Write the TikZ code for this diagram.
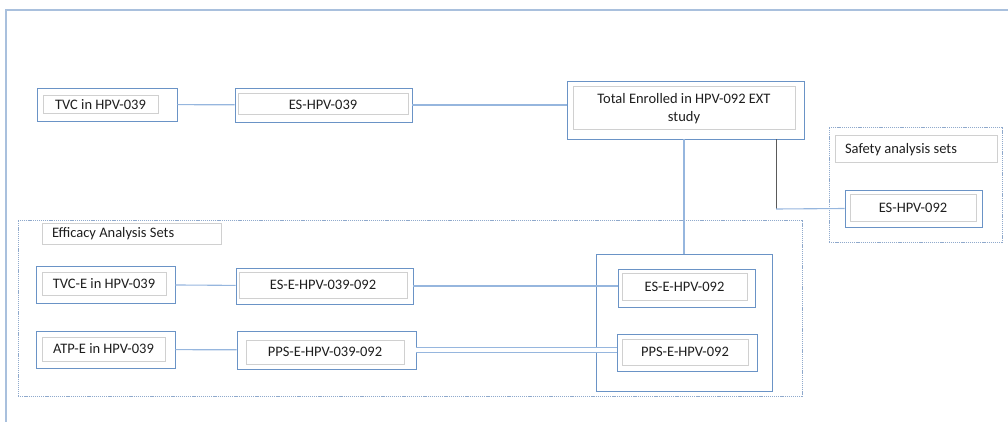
\documentclass[tikz,border=0pt]{standalone}
\usepackage{fontspec}
\setmainfont{Carlito}
\definecolor{boxblue}{HTML}{6A93C6}
\definecolor{linkblue}{HTML}{96B6DE}
\definecolor{innergray}{HTML}{D0D0D0}
\definecolor{frameblue}{HTML}{A9C0DD}
\definecolor{dotblue}{HTML}{8FA9CC}
\definecolor{textgray}{HTML}{1E1E1E}
\definecolor{stemgray}{HTML}{5A5A5A}
\begin{document}
\begin{tikzpicture}[x=1pt,y=-1pt,
    outer/.style={draw=boxblue,line width=0.9pt,inner sep=0pt},
    inner/.style={draw=innergray,line width=1pt,inner sep=0pt,text=textgray,
      font=\fontsize{14.5}{18}\selectfont},
    group/.style={draw=dotblue,line width=0.9pt,dash pattern=on 1.2pt off 0.9pt,inner sep=0pt},
    link/.style={draw=linkblue,line width=1.1pt},
    sz/.style 2 args={minimum width=#1pt,minimum height=#2pt}]
    \useasboundingbox (0,0) rectangle (1008,422);
    \draw[frameblue,line width=1.8pt] (6,422) -- (6,10) -- (1008,10);
    % analysis set frames
    \node[group,sz={173}{115}] (G0) at (915.5,184.5) {};
    \node[group,sz={784}{176}] (G1) at (410,308) {};
    \node[outer,sz={176}{137}] (C2_2) at (684,322.5) {};
    \node[inner,sz={162}{27},text width=142pt,inner xsep=10pt,align=flush left] (L0) at (916,149.5) {Safety analysis sets};
    \node[inner,sz={179}{21},text width=159pt,inner xsep=10pt,align=flush left] (L1) at (131.5,233.5) {Efficacy Analysis Sets};
    % enrolment row
    \node[outer,sz={140}{33}] (A0_0) at (107,104.5) {};
    \node[inner,sz={115}{18}] (B0_0) at (100.5,105) {TVC in HPV-039};
    \node[outer,sz={177}{34}] (A0_1) at (323.5,105) {};
    \node[inner,sz={170}{21}] (B0_1) at (323,104.5) {ES-HPV-039};
    \node[outer,sz={237}{58}] (A0_2) at (685.5,110) {};
    \node[inner,sz={222}{43},align=center] (B0_2) at (684,108.5) {Total Enrolled in HPV-092 EXT\\study};
    % safety
    \node[outer,sz={137}{37}] (A1_3) at (913.5,208.5) {};
    \node[inner,sz={126}{27}] (B1_3) at (913,207.5) {ES-HPV-092};
    % efficacy
    \node[outer,sz={139}{37}] (A2_0) at (105.5,284.5) {};
    \node[inner,sz={124}{23}] (B2_0) at (104,283.5) {TVC-E in HPV-039};
    \node[outer,sz={177}{36}] (A2_1) at (324.5,286) {};
    \node[inner,sz={168}{26}] (B2_1) at (323,285) {ES-E-HPV-039-092};
    \node[outer,sz={137}{38}] (A2_2) at (686.5,288) {};
    \node[inner,sz={125}{27}] (B2_2) at (684.5,286.5) {ES-E-HPV-092};
    \node[outer,sz={139}{37}] (A3_0) at (105.5,349.5) {};
    \node[inner,sz={123}{24}] (B3_0) at (103.5,349) {ATP-E in HPV-039};
    \node[outer,sz={179}{38}] (A3_1) at (326.5,350) {};
    \node[inner,sz={158}{24}] (B3_1) at (325,352) {PPS-E-HPV-039-092};
    \node[outer,sz={140}{37}] (A3_2) at (687,352.5) {};
    \node[inner,sz={126}{26}] (B3_2) at (685,352) {PPS-E-HPV-092};
    % links
    \path (A0_0) edge [link] (A0_1);
    \draw[link] (A0_1.east) -- (A0_1.east -| A0_2.west);
    \draw[link] (A0_2.south -| C2_2.north) -- (C2_2.north);
    \coordinate (K) at (776,209);
    \draw[stemgray,line width=1pt] (A0_2.south -| K) -- (K);
    \draw[link] (K) -- (A1_3.west);
    \path (A2_0) edge [link] (A2_1);
    \draw[link] (A2_1.east) -- (A2_1.east -| A2_2.west);
    \path (A3_0) edge [link] (A3_1);
    \draw[link,line width=0.9pt,double=white,double distance=4pt] (A3_1.east) -- (A3_1.east -| A3_2.west);
\end{tikzpicture}
\end{document}
